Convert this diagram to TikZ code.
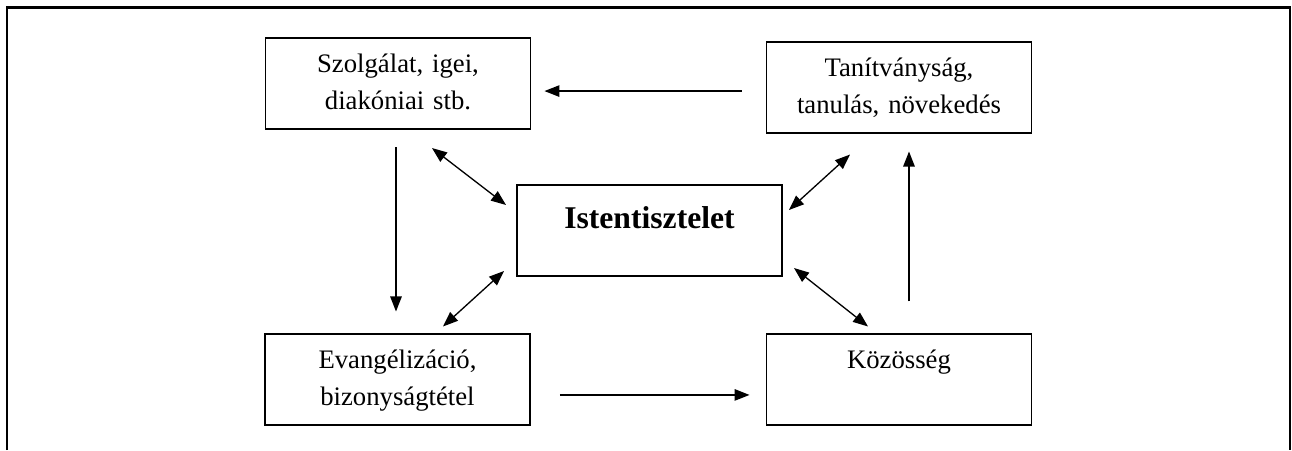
\documentclass[tikz,border=0pt]{standalone}
\usepackage{fontspec}
\setmainfont{Liberation Serif}
\usepackage{tikz}
\usetikzlibrary{arrows.meta,positioning,calc}

\begin{document}
\begin{tikzpicture}[
        box/.style={rectangle, draw, line width=1.1pt, text width=5.3cm, inner sep=0pt, align=center, text height=0.69cm, text depth=1.13cm, font=\fontsize{15.2}{21}\selectfont},
        mainbox/.style={box, text height=0.86cm, text depth=0.96cm, font=\fontsize{18}{22}\selectfont\bfseries},
        arrow/.style={->, >={Triangle[length=0.3cm, width=0.23cm]}, line width=0.75pt},
        both/.style={arrow, <->}
      ]
        \useasboundingbox (-12.99,-4.39) rectangle (12.85,4.61);

        % Frame
        \draw[line width=1.2pt] (-12.85,-4.39) -- (-12.85,4.46) -- (12.81,4.46) -- (12.81,-4.39);

        % Centre
        \node[mainbox] (ist) {Istentisztelet};

        % Corner boxes
        \node[box, above=1.08cm of ist, xshift=-5.03cm] (szolg) {Szolgálat, igei,\\diakóniai stb.};
        \node[box, above=1.0cm of ist, xshift=4.99cm] (tanit) {Tanítványság,\\tanulás, növekedés};
        \node[box, below=1.13cm of ist, xshift=-5.04cm] (evang) {Evangélizáció,\\bizonyságtétel};
        \node[box, below=1.13cm of ist, xshift=4.99cm] (kozos) {Közösség};

        % Cycle arrows
        \draw[arrow, shorten <=0.48cm, shorten >=0.26cm] ([yshift=-0.07cm]tanit.west) -- ([yshift=-0.07cm]tanit.west -| szolg.east);
        \draw[arrow, shorten <=0.34cm, shorten >=0.44cm] ([xshift=-0.04cm]szolg.south) -- ([xshift=-0.04cm]szolg.south |- evang.north);
        \draw[arrow, shorten <=0.58cm, shorten >=0.32cm] ([yshift=-0.3cm]evang.east) -- ([yshift=-0.3cm]evang.east -| kozos.west);
        \draw[arrow, shorten <=0.64cm, shorten >=0.35cm] ([xshift=0.2cm]kozos.north) -- ([xshift=0.2cm]kozos.north |- tanit.south);

        % Arrows to and from the centre
        \draw[both] ([shift={(0.68,-0.36)}]szolg.south) -- ([shift={(-0.2,0.51)}]ist.west);
        \draw[both] ([shift={(0.91,0.14)}]evang.north) -- ([shift={(-0.24,-0.81)}]ist.west);
        \draw[both] ([shift={(0.12,0.41)}]ist.east) -- ([shift={(-0.98,-0.41)}]tanit.south);
        \draw[both] ([shift={(0.22,-0.75)}]ist.east) -- ([shift={(-0.62,0.14)}]kozos.north);
      \end{tikzpicture}
\end{document}
